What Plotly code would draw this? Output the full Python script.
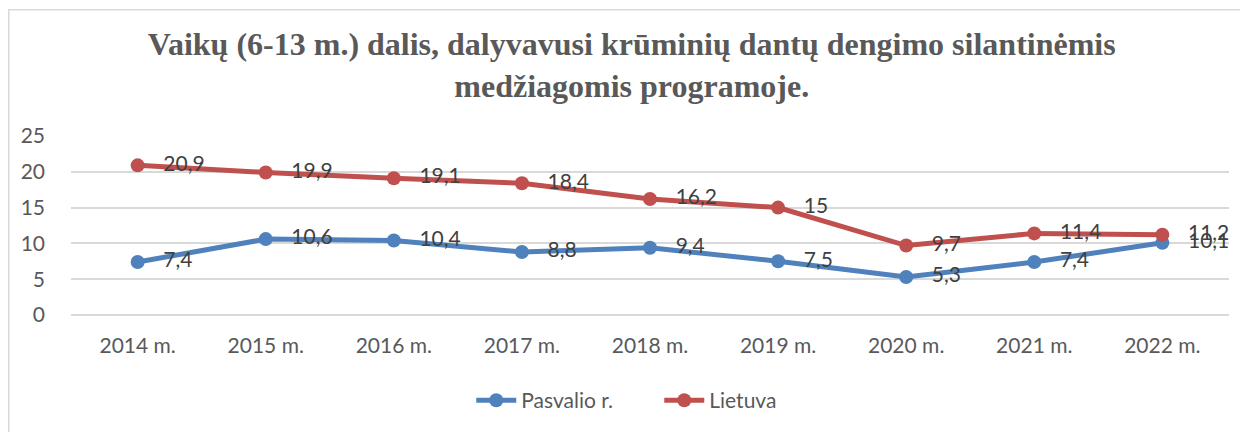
import plotly.graph_objects as go

categories = ["2014 m.", "2015 m.", "2016 m.", "2017 m.", "2018 m.", "2019 m.", "2020 m.", "2021 m.", "2022 m."]
pasvalio = [7.4, 10.6, 10.4, 8.8, 9.4, 7.5, 5.3, 7.4, 10.1]
lietuva = [20.9, 19.9, 19.1, 18.4, 16.2, 15, 9.7, 11.4, 11.2]
y_ticks = [0, 5, 10, 15, 20, 25]
title_text = "Vaikų (6-13 m.) dalis, dalyvavusi krūminių dantų dengimo silantinėmis<br>medžiagomis programoje."

FONT = "Lato"
TXT = "#404040"
AX = "#595959"


def fmt(v):
    return "\u2002 " + f"{v:g}".replace(".", ",")


fig = go.Figure()
for name, vals, color in [("Pasvalio r.", pasvalio, "#4F81BD"), ("Lietuva", lietuva, "#C0504D")]:
    fig.add_trace(go.Scatter(
        x=categories, y=vals, name=name, mode="lines+markers+text",
        line=dict(color=color, width=5),
        marker=dict(color=color, size=14),
        text=[fmt(v) for v in vals], textposition="middle right",
        textfont=dict(family=FONT, size=21, color=TXT),
        cliponaxis=False,
    ))

W, H = 1240, 424
L, R, T, B = 63, 19, 128, 116
pw, ph = W - L - R, H - T - B

fig.update_layout(
    width=W, height=H,
    paper_bgcolor="white", plot_bgcolor="white",
    margin=dict(l=L, r=R, t=T, b=B),
    title=dict(text=title_text, x=0.503, xanchor="center", y=0.888, yanchor="middle",
               font=dict(family="Liberation Serif", size=32, color=AX, weight="bold")),
    xaxis=dict(type="category", showgrid=False, showline=False, ticks="",
               tickfont=dict(family=FONT, size=21, color=AX), ticklabelstandoff=16),
    yaxis=dict(range=[0, 25], tickvals=y_ticks, showgrid=True, gridcolor="#D9D9D9", gridwidth=1.5,
               zeroline=True, zerolinecolor="#D9D9D9", zerolinewidth=1.5, showline=False,
               tickfont=dict(family=FONT, size=21, color=AX), ticklabelstandoff=25),
    legend=dict(orientation="h", x=0.508, xanchor="center", y=-0.47, yanchor="middle",
                font=dict(family=FONT, size=21, color=AX), itemwidth=40, entrywidth=133),
    showlegend=True,
    shapes=[dict(type="rect", xref="paper", yref="paper",
                 x0=(0.75 - L) / pw, x1=1.05, y0=-0.9, y1=(ph + T - 1) / ph,
                 line=dict(color="#D9D9D9", width=1.5), fillcolor="rgba(0,0,0,0)", layer="below")],
)

fig.write_html("out.html")
